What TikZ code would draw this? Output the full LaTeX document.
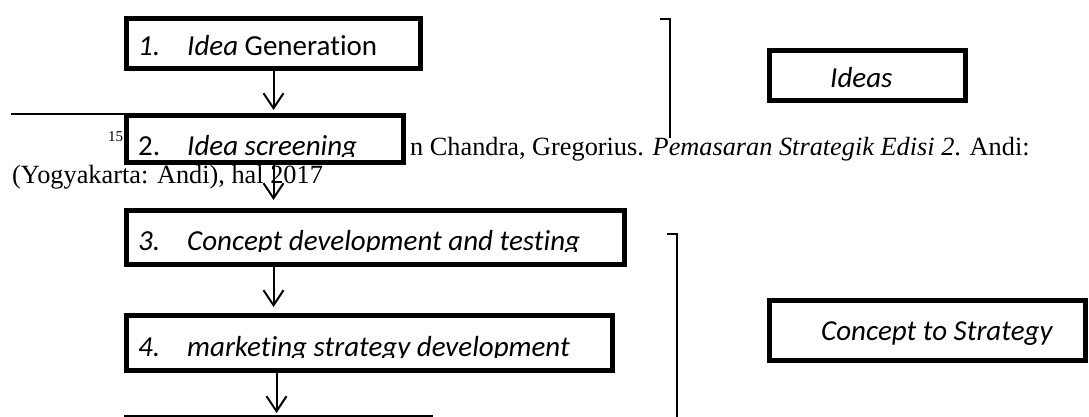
\documentclass[tikz,border=0pt]{standalone}
\usepackage{fontspec}
\setmainfont{Liberation Serif}
\newfontfamily\boxfont[Ligatures={NoCommon,NoContextual}]{Carlito}
\usetikzlibrary{arrows.meta}

\begin{document}
\begin{tikzpicture}[x=1pt,y=-1pt,
 stepbox/.style={draw,line width=5pt,fill=white,inner sep=0pt},
 flow/.style={line width=2pt,-{Straight Barb[length=15pt,width=20pt,line width=2pt]}},
 brace/.style={line width=1.5pt},
 boxtxt/.style={anchor=base west,inner sep=0pt,font=\boxfont\fontsize{29}{34}\selectfont},
 notetxt/.style={anchor=base west,inner sep=0pt,font=\fontsize{26.3}{28}\selectfont}]
 \path[use as bounding box,clip] (0,0) rectangle (1089,417);
 \draw[line width=1.5pt] (11,114)--(124,114);
 \node[anchor=base west,inner sep=0pt,font=\fontsize{15}{15}\selectfont] (fnum) at (108,142) {15};
 \node[notetxt] (fn1) at (410,155) {n Chandra, Gregorius. \textit{Pemasaran Strategik Edisi 2}. Andi:};
 \node[notetxt] (fn2) at (12,183) {(Yogyakarta: Andi), hal 2017};
 \node[stepbox,minimum width=294pt,minimum height=50pt] (s1) at (273.5,43.5) {};
 \node[stepbox,minimum width=277pt,minimum height=47pt] (s2) at (265,139) {};
 \node[stepbox,minimum width=498pt,minimum height=54pt] (s3) at (375.5,237.5) {};
 \node[stepbox,minimum width=486pt,minimum height=55pt] (s4) at (369.5,343) {};
 \node[stepbox,minimum width=304pt,minimum height=55pt] (s5) at (278.5,445) {};
 \node[stepbox,minimum width=196pt,minimum height=50pt] (ideas) at (867.5,75.5) {};
 \node[stepbox,minimum width=316pt,minimum height=60pt] (concept) at (927.5,330.5) {};
 \begin{scope}
  \clip (0,0) rectangle (1089,57);
  \node[boxtxt] (n1) at (138,56) {\textit{1.}};
  \node[boxtxt] (t1) at (187,56) {\textit{Idea} Generation};
 \end{scope}
 \begin{scope}
  \clip (0,0) rectangle (1089,89);
  \node[boxtxt] (tideas) at (830,88) {\textit{Ideas}};
 \end{scope}
 \begin{scope}
  \clip (0,100) rectangle (1089,156);
  \node[boxtxt] (n2) at (138,155) {2.};
  \node[boxtxt] (t2) at (187,155) {\textit{Idea screening}};
 \end{scope}
 \begin{scope}
  \clip (0,200) rectangle (1089,251);
  \node[boxtxt] (n3) at (138,250) {\textit{3.}};
  \node[boxtxt] (t3) at (187,250) {\textit{Concept development and testing}};
 \end{scope}
 \begin{scope}
  \clip (0,300) rectangle (1089,357);
  \node[boxtxt] (n4) at (138,356) {\textit{4.}};
  \node[boxtxt] (t4) at (187,356) {\textit{marketing strategy development}};
 \end{scope}
 \node[boxtxt] (tconcept) at (821,340) {\textit{Concept to Strategy}};
 \draw[flow,shorten >=3pt] (s1.south) -- (s1.south |- s2.north);
 \draw[flow,shorten >=8pt] (s2.south -| s1.south) -- (s1.south |- s3.north);
 \draw[flow,shorten >=6pt] (s3.south -| s1.south) -- (s1.south |- s4.north);
 \draw[flow,shorten >=2pt] ([xshift=3pt]s4.south -| s1.south) -- ([xshift=3pt]s1.south |- s5.north);
 \draw[brace] (660,19) -- (670,19) -- (670,138);
 \draw[brace] (667,234) -- (677,234) -- (677,420);
\end{tikzpicture}
\end{document}
